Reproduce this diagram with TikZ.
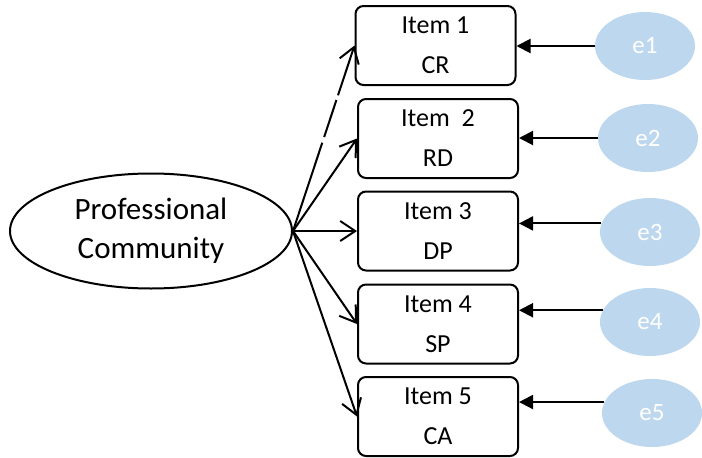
\documentclass[tikz,border=0pt]{standalone}
\usepackage{fontspec}
\setmainfont{Carlito}
\usetikzlibrary{arrows.meta,shapes.geometric}
\definecolor{errfill}{RGB}{189,215,238}
\begin{document}
\begin{tikzpicture}[x=1pt,y=-1pt,
  itembox/.style={draw, line width=2pt, rounded corners=8pt, minimum width=160pt, minimum height=79pt, inner sep=0pt, align=center, font=\fontsize{26}{40}\selectfont},
  latent/.style={ellipse, draw, line width=2pt, minimum width=282pt, minimum height=115pt, inner sep=0pt, align=center, font=\fontsize{31}{39}\selectfont},
  errnode/.style={ellipse, fill=errfill, minimum width=100pt, minimum height=68pt, inner sep=0pt, text=white, font=\fontsize{25}{30}\selectfont},
  load/.style={line width=2pt, -{Straight Barb[length=15pt,width=20pt]}},
  eload/.style={line width=2pt, -{Triangle[length=14pt,width=14pt]}},
]
\useasboundingbox (0,0) rectangle (702,458);
\node[latent] (pc) at (151,231) {Professional\\Community};
\node[itembox] (b1) at (435.5,45.5) {Item 1\\CR};
\node[itembox] (b2) at (438,138.5) {Item~~2\\RD};
\node[itembox] (b3) at (438,231) {Item 3\\DP};
\node[itembox] (b4) at (438,324) {Item 4\\SP};
\node[itembox] (b5) at (438,416.5) {Item 5\\CA};
\node[errnode] (e1) at (645,46) {e1};
\node[errnode] (e2) at (648,138) {e2};
\node[errnode] (e3) at (650,232) {e3};
\node[errnode] (e4) at (650,322) {e4};
\node[errnode] (e5) at (652,413) {e5};
\draw[load, dash pattern=on 93pt off 6pt on 39pt off 5pt on 200pt off 0pt] (pc.east) -- (b1.west);
\draw[load] (pc.east) -- (b2.west);
\draw[load] (pc.east) -- (b3.west);
\draw[load] (pc.east) -- (b4.west);
\draw[load] (pc.east) -- (b5.west);
\draw[eload] (e1.west) -- (b1.east |- e1.west);
\draw[eload] (e2.west) -- (b2.east |- e2.west);
\draw[eload] (e3.170) -- (b3.east |- e3.170);
\draw[eload] (e4.166) -- (b4.east |- e4.166);
\draw[eload] (e5.167) -- (b5.east |- e5.167);
\end{tikzpicture}
\end{document}
